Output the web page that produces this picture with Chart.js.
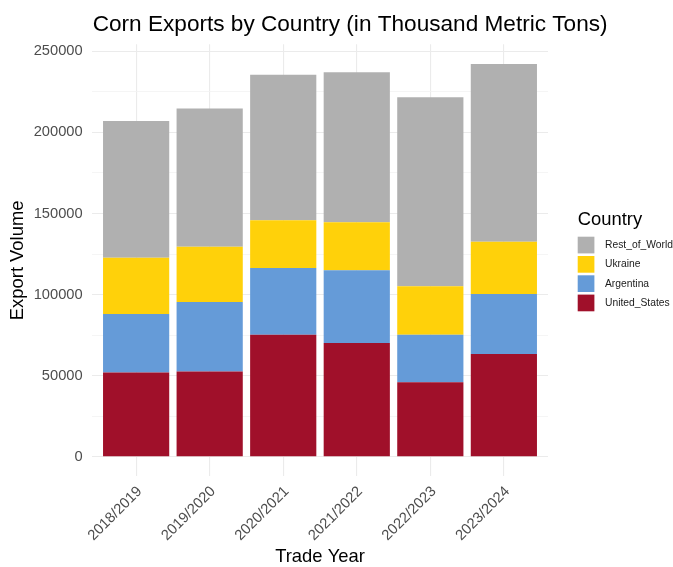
<!DOCTYPE html>
<html>
<head>
<meta charset="utf-8">
<script src="https://cdn.jsdelivr.net/npm/chart.js@4.4.1/dist/chart.umd.min.js"></script>
<style>
  html, body { margin: 0; padding: 0; background: #fff; }
  #wrap { width: 673px; height: 567px; }
</style>
</head>
<body>
<div id="wrap"><canvas id="chart" width="673" height="567"></canvas></div>
<script>
// values (thousand metric tons)
const tradeYears = ['2018/2019', '2019/2020', '2020/2021', '2021/2022', '2022/2023', '2023/2024'];
const unitedStates = [51900, 52500, 75300, 70200, 45900, 63400];
const argentina = [36100, 42900, 41100, 44800, 29400, 37000];
const ukraine = [34700, 34100, 29400, 29600, 29800, 32200];
const restOfWorld = [84300, 85300, 89800, 92400, 116500, 109600];
const yTicks = [0, 25000, 50000, 75000, 100000, 125000, 150000, 175000, 200000, 225000, 250000];

const FONT = "'Liberation Sans', Arial, Helvetica, sans-serif";
const TITLE = 'Corn Exports by Country (in Thousand Metric Tons)';

// title left-aligned to the panel, and legend in ggplot style (reverse order)
const ggDecor = {
  id: 'ggDecor',
  afterDraw(chart) {
    const ctx = chart.ctx;
    const area = chart.chartArea;
    ctx.save();
    ctx.fillStyle = '#000';
    ctx.textAlign = 'left';
    ctx.textBaseline = 'alphabetic';
    ctx.font = '22.6px ' + FONT;
    ctx.fillText(TITLE, area.left + 0.7, 30.7);

    const x = area.right + 29.7;
    ctx.font = '18.4px ' + FONT;
    ctx.fillText('Country', x, 225);
    const sets = chart.data.datasets.slice().reverse();
    sets.forEach((ds, i) => {
      const y = 236.7 + i * 19.3;
      ctx.fillStyle = ds.backgroundColor;
      ctx.fillRect(x, y, 16.7, 16.7);
      ctx.fillStyle = '#1a1a1a';
      ctx.font = '10.3px ' + FONT;
      ctx.textBaseline = 'middle';
      ctx.fillText(ds.label, x + 27.3, y + 8.6);
    });
    ctx.restore();
  }
};

new Chart(document.getElementById('chart'), {
  type: 'bar',
  data: {
    labels: tradeYears,
    datasets: [
      { label: 'United_States', data: unitedStates, backgroundColor: '#A0102A' },
      { label: 'Argentina', data: argentina, backgroundColor: '#659BD8' },
      { label: 'Ukraine', data: ukraine, backgroundColor: '#FFD10A' },
      { label: 'Rest_of_World', data: restOfWorld, backgroundColor: '#B0B0B0' }
    ]
  },
  options: {
    responsive: false,
    animation: false,
    layout: { padding: { left: 0, right: 125, top: 44.3, bottom: 0 } },
    datasets: { bar: { categoryPercentage: 1, barPercentage: 0.9, borderWidth: 0 } },
    plugins: {
      legend: { display: false },
      tooltip: { enabled: false },
      title: { display: false }
    },
    scales: {
      x: {
        stacked: true,
        offset: true,
        // ggplot pads discrete axes by 0.6 of a category each side
        afterBuildTicks: (s) => {
          s._startValue = -0.6;
          s._valueRange = tradeYears.length - 1 + 1.2;
        },
        afterFit: (s) => { s.height = 90.6; },
        border: { display: false },
        grid: { offset: false, color: '#EBEBEB', lineWidth: 1.1, drawTicks: false },
        ticks: {
          color: '#4D4D4D',
          font: { family: FONT, size: 14.7 },
          minRotation: 45,
          maxRotation: 45,
          padding: 6.5,
          labelOffset: 3.5,
          autoSkip: false
        },
        title: {
          display: true,
          text: 'Trade Year',
          color: '#000',
          font: { family: FONT, size: 18.4, lineHeight: 1 },
          padding: { top: 0, bottom: 0.5 }
        }
      },
      y: {
        stacked: true,
        min: -12110,
        max: 254310,
        afterBuildTicks: (s) => { s.ticks = yTicks.map(v => ({ value: v })); },
        afterFit: (s) => { s.width = 92; },
        border: { display: false },
        grid: {
          drawTicks: false,
          color: (c) => (c.tick && c.tick.value % 50000 === 0) ? '#EBEBEB' : '#F3F3F3',
          lineWidth: (c) => (c.tick && c.tick.value % 50000 === 0) ? 1.1 : 0.8
        },
        ticks: {
          color: '#4D4D4D',
          font: { family: FONT, size: 14.7 },
          padding: 9.3,
          autoSkip: false,
          callback: (v) => (v % 50000 === 0 ? String(v) : '')
        },
        title: {
          display: true,
          text: 'Export Volume',
          color: '#000',
          font: { family: FONT, size: 18.4, lineHeight: 1.2 },
          padding: { top: 7.1, bottom: 0 }
        }
      }
    }
  },
  plugins: [ggDecor]
});
</script>
</body>
</html>
